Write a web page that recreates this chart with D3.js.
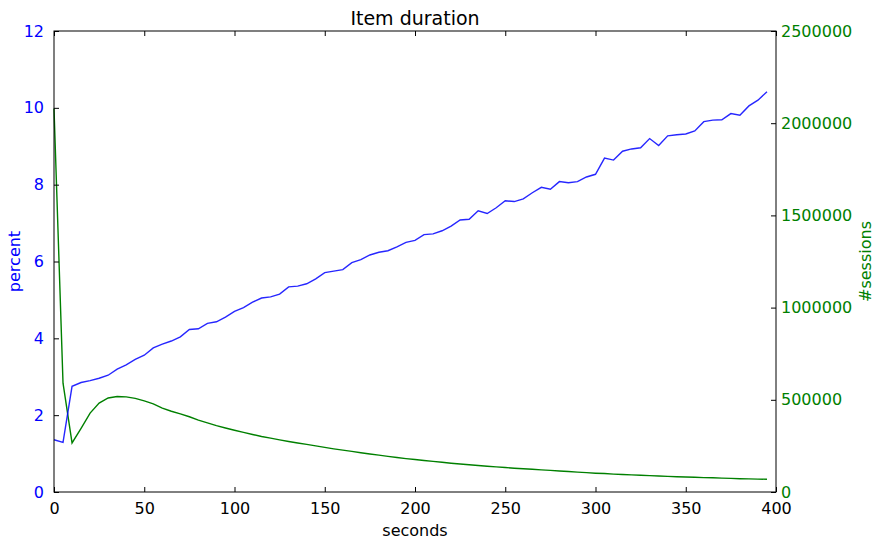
<!DOCTYPE html>
<html>
<head>
<meta charset="utf-8">
<script src="https://cdn.jsdelivr.net/npm/d3@7"></script>
<style>
  html, body { margin: 0; padding: 0; background: #fff; }
  svg { display: block; font-family: "DejaVu Sans", sans-serif; }
</style>
</head>
<body>
<svg id="chart" width="879" height="543"></svg>
<script>
// ---- data ----
const seconds = d3.range(0, 400, 5); // 0,5,...,395 (x categories)
const percent = [
  1.36, 1.29, 2.75, 2.85, 2.90, 2.96, 3.04, 3.20, 3.31, 3.45,
  3.56, 3.75, 3.85, 3.93, 4.04, 4.23, 4.25, 4.39, 4.43, 4.55,
  4.70, 4.80, 4.94, 5.05, 5.08, 5.15, 5.34, 5.36, 5.42, 5.55,
  5.71, 5.75, 5.79, 5.97, 6.05, 6.17, 6.24, 6.28, 6.38, 6.50,
  6.55, 6.70, 6.72, 6.80, 6.92, 7.08, 7.10, 7.32, 7.25, 7.40,
  7.58, 7.56, 7.63, 7.79, 7.93, 7.88, 8.08, 8.05, 8.08, 8.20,
  8.27, 8.69, 8.64, 8.87, 8.93, 8.96, 9.20, 9.02, 9.27, 9.30,
  9.32, 9.40, 9.64, 9.68, 9.69, 9.85, 9.81, 10.05, 10.20, 10.42
];
const sessions = [
  2080000, 590000, 266000, 345000, 428000, 482000, 510000, 518000, 516000, 508000,
  494000, 478000, 455000, 438000, 424000, 408000, 390000, 375000, 360000, 347000,
  335000, 323000, 312000, 301000, 292000, 283000, 274000, 266000, 258000, 250000,
  242000, 234000, 227000, 220000, 213000, 206000, 200000, 193000, 187000, 181000,
  176000, 171000, 166000, 161000, 156000, 152000, 148000, 144000, 140000, 136000,
  133000, 129000, 126000, 123000, 120000, 117000, 114000, 111000, 108000, 105000,
  102000, 100000, 97000, 95000, 93000, 91000, 89000, 87000, 85000, 83000,
  81000, 80000, 78000, 77000, 75000, 74000, 72000, 71000, 70000, 69000
];
const xTicks = [0, 50, 100, 150, 200, 250, 300, 350, 400];
const leftTicks = [0, 2, 4, 6, 8, 10, 12];
const rightTicks = [0, 500000, 1000000, 1500000, 2000000, 2500000];

// ---- layout ----
const svg = d3.select("#chart");
const L = 54, R = 776, T = 31, B = 492;
const x = d3.scaleLinear().domain([0, 400]).range([L, R]);
const yL = d3.scaleLinear().domain([0, 12]).range([B, T]);
const yR = d3.scaleLinear().domain([0, 2500000]).range([B, T]);

const blue = "#0000ff", green = "#008000";
const tickLen = 5;

// lines
const lineL = d3.line().x((d, i) => x(seconds[i])).y(d => yL(d));
const lineR = d3.line().x((d, i) => x(seconds[i])).y(d => yR(d));

svg.append("path").datum(sessions).attr("d", lineR)
  .attr("fill", "none").attr("stroke", green).attr("stroke-width", 1.4);
svg.append("path").datum(percent).attr("d", lineL)
  .attr("fill", "none").attr("stroke", blue).attr("stroke-width", 1.4)
  .attr("stroke-opacity", 0.85);

// axes (inward ticks)
function styleAxis(g, color) {
  g.select(".domain").remove();
  g.selectAll(".tick line").attr("stroke", "#000").attr("stroke-width", 1);
  g.selectAll(".tick text").attr("fill", color).style("font-size", "16px")
    .style("font-family", "DejaVu Sans, sans-serif");
}

const xb = svg.append("g").attr("transform", `translate(0,${B})`)
  .call(d3.axisBottom(x).tickValues(xTicks).tickFormat(d3.format("d"))
    .tickSizeInner(-tickLen).tickSizeOuter(0).tickPadding(11));
styleAxis(xb, "#000");

const xt = svg.append("g").attr("transform", `translate(0,${T})`)
  .call(d3.axisTop(x).tickValues(xTicks).tickFormat("")
    .tickSizeInner(-tickLen).tickSizeOuter(0));
styleAxis(xt, "#000");

const yl = svg.append("g").attr("transform", `translate(${L},0)`)
  .call(d3.axisLeft(yL).tickValues(leftTicks).tickFormat(d3.format("d"))
    .tickSizeInner(-tickLen).tickSizeOuter(0).tickPadding(10));
styleAxis(yl, blue);

const yr = svg.append("g").attr("transform", `translate(${R},0)`)
  .call(d3.axisRight(yR).tickValues(rightTicks).tickFormat(d3.format("d"))
    .tickSizeInner(-tickLen).tickSizeOuter(0).tickPadding(5));
styleAxis(yr, green);

// frame
svg.append("rect").attr("x", L).attr("y", T).attr("width", R - L).attr("height", B - T)
  .attr("fill", "none").attr("stroke", "#000").attr("stroke-width", 1);

// labels
svg.append("text").attr("x", (L + R) / 2).attr("y", 25).attr("text-anchor", "middle")
  .style("font-size", "19px").attr("fill", "#000").text("Item duration");
svg.append("text").attr("x", (L + R) / 2).attr("y", 536).attr("text-anchor", "middle")
  .style("font-size", "16px").attr("fill", "#000").text("seconds");
svg.append("text").attr("transform", `translate(20,${(T + B) / 2}) rotate(-90)`)
  .attr("text-anchor", "middle").style("font-size", "16px").attr("fill", blue).text("percent");
svg.append("text").attr("transform", `translate(871,${(T + B) / 2}) rotate(-90)`)
  .attr("text-anchor", "middle").style("font-size", "16px").attr("fill", green).text("#sessions");
</script>
</body>
</html>
